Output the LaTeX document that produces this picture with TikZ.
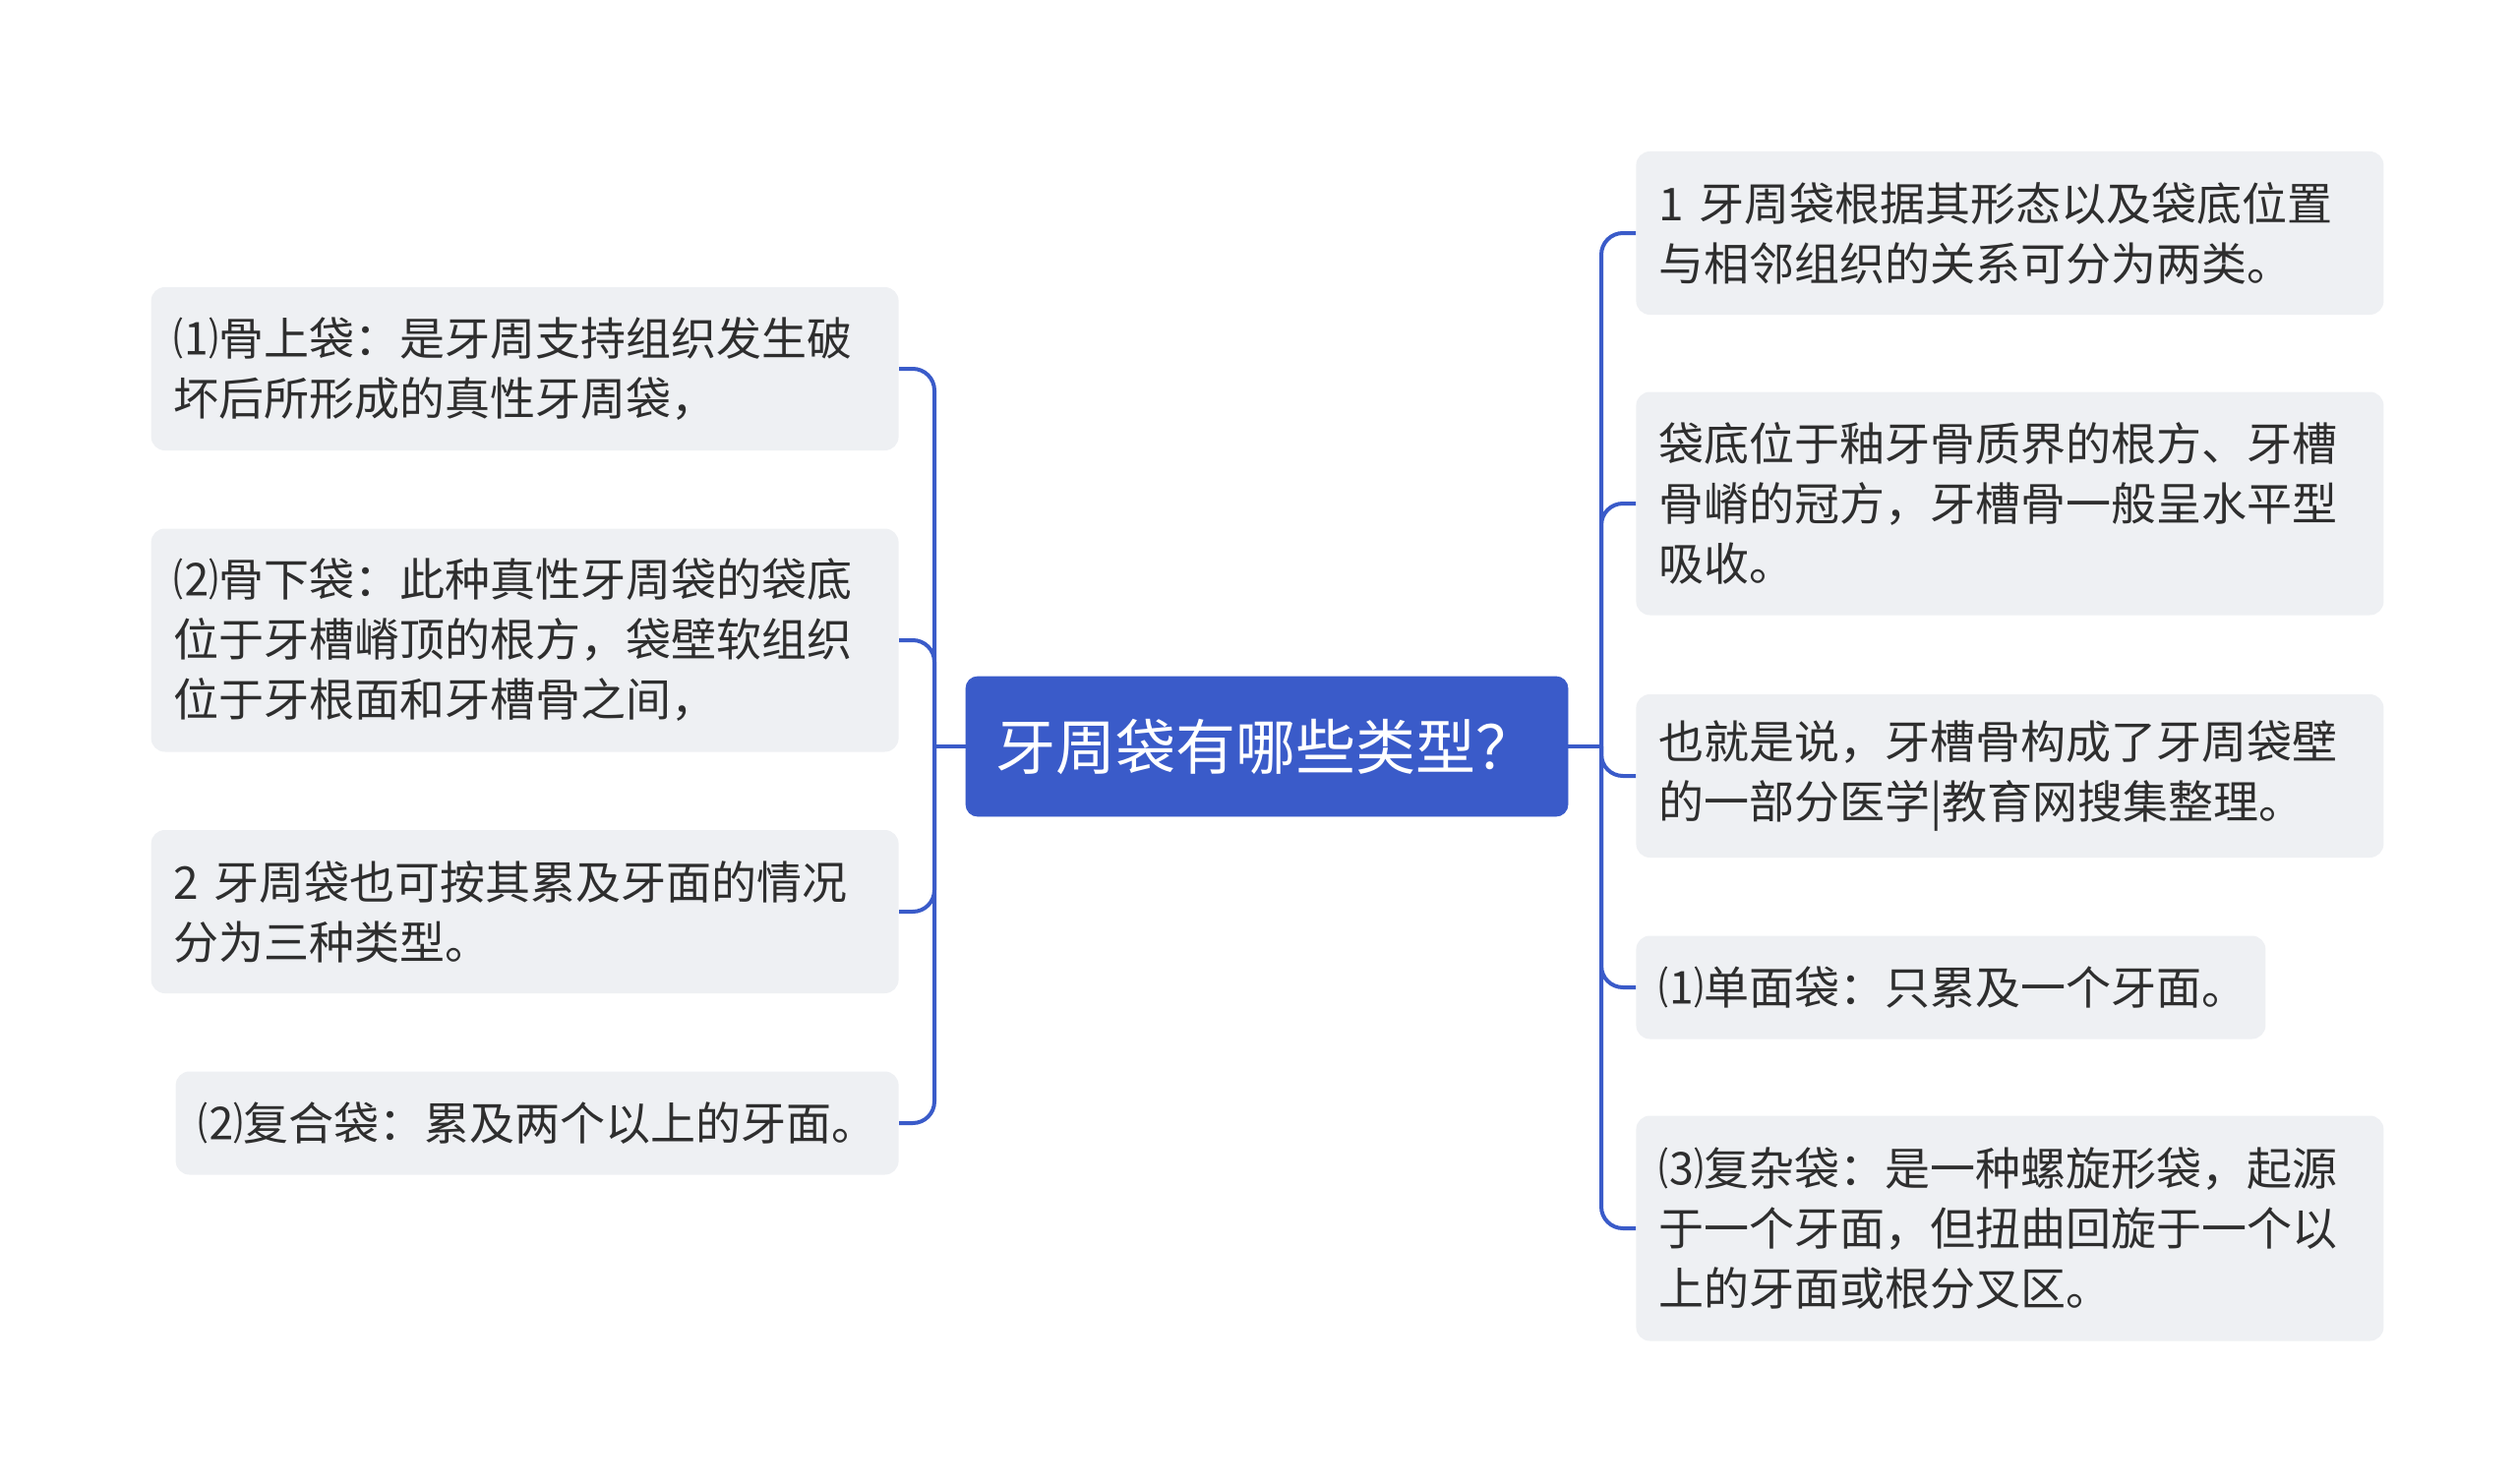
\documentclass[tikz,border=0pt]{standalone}
\usepackage{fontspec}
\setmainfont{Noto Sans CJK SC}
\usetikzlibrary{positioning}
\definecolor{mapblue}{HTML}{3A5BC9}
\definecolor{leafgray}{HTML}{EEF0F3}
\definecolor{inkgray}{HTML}{2E2E2E}

\begin{document}
\begin{tikzpicture}[x=0.5pt, y=-0.5pt,
    topic/.style={fill=mapblue, draw=mapblue, rounded corners=6pt, text=white,
      font=\fontsize{30.5}{36}\selectfont, align=left, text width=276pt, minimum height=71pt, inner xsep=15pt, inner ysep=0pt},
    leaf/.style={fill=leafgray, rounded corners=7pt, text=inkgray,
      font=\fontsize{23}{30.5}\selectfont, align=left, inner xsep=11.5pt, inner ysep=0pt, text width=357pt},
    branch/.style={draw=mapblue, line width=2pt, rounded corners=11pt}]
    \useasboundingbox (0,0) rectangle (2560,1509);

    % centre topic
    \node[topic] (root) at (1288,759) {牙周袋有哪些类型？};

    % left side
    \node[leaf, anchor=east, minimum height=83pt] (l1) at (914,375) {⑴骨上袋：是牙周支持组织发生破\\坏后所形成的真性牙周袋，};
    \node[leaf, anchor=east, minimum height=113.5pt] (l2) at (914,651) {⑵骨下袋：此种真性牙周袋的袋底\\位于牙槽嵴顶的根方，袋壁软组织\\位于牙根面和牙槽骨之间，};
    \node[leaf, anchor=east, minimum height=83pt] (l3) at (914,927) {2 牙周袋也可按其累及牙面的情况\\分为三种类型。};
    \node[leaf, anchor=east, minimum height=52.5pt, text width=344.5pt] (l4) at (914,1142) {⑵复合袋：累及两个以上的牙面。};

    % right side
    \node[leaf, anchor=west, minimum height=83pt] (r1) at (1663,237) {1 牙周袋根据其形态以及袋底位置\\与相邻组织的关系可分为两类。};
    \node[leaf, anchor=west, minimum height=113.5pt] (r2) at (1663,512) {袋底位于釉牙骨质界的根方、牙槽\\骨嵴的冠方，牙槽骨一般呈水平型\\吸收。};
    \node[leaf, anchor=west, minimum height=83pt] (r3) at (1663,789) {也就是说，牙槽骨构成了牙周袋壁\\的一部分医学|教育网搜集整理。};
    \node[leaf, anchor=west, minimum height=52.5pt, text width=297pt] (r4) at (1663,1004) {⑴单面袋：只累及一个牙面。};
    \node[leaf, anchor=west, minimum height=114.5pt] (r5) at (1663,1249) {⑶复杂袋：是一种螺旋形袋，起源\\于一个牙面，但扭曲回旋于一个以\\上的牙面或根分叉区。};

    % spines
    \coordinate (lspine) at (950,759);
    \coordinate (rspine) at (1628,759);

    \draw[branch] (root.west) -- (lspine);
    \draw[branch] (root.east) -- (rspine);
    \foreach \leafname in {l1,l2,l3,l4}
        \draw[branch] (lspine) |- (\leafname.east);
    \foreach \leafname in {r1,r2,r3,r4,r5}
        \draw[branch] (rspine) |- (\leafname.west);
\end{tikzpicture}
\end{document}
